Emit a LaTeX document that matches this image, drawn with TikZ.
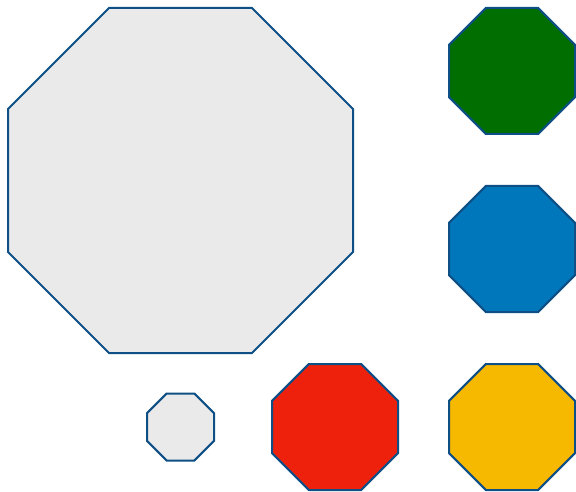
\documentclass[tikz,border=0pt]{standalone}
\usetikzlibrary{calc}
\definecolor{edgeblue}{HTML}{0E4F86}
\definecolor{lightgray}{HTML}{EAEAEA}
\definecolor{ogreen}{HTML}{006E00}
\definecolor{oblue}{HTML}{0077BB}
\definecolor{ored}{HTML}{EE220C}
\definecolor{oyellow}{HTML}{F7B900}
\tikzset{
  octo/.style={draw=edgeblue, line width=2pt, line join=miter},
}
% \octagon{fill}{cx}{cy}{halfwidth}
\newcommand\octagon[4]{%
  \pgfmathsetmacro\oa{#4}%
  \pgfmathsetmacro\ob{#4*0.414214}%
  \filldraw[octo, fill=#1]
    (#2-\ob,#3-\oa) -- (#2+\ob,#3-\oa) -- (#2+\oa,#3-\ob) -- (#2+\oa,#3+\ob)
    -- (#2+\ob,#3+\oa) -- (#2-\ob,#3+\oa) -- (#2-\oa,#3+\ob) -- (#2-\oa,#3-\ob) -- cycle;%
}
\begin{document}
\begin{tikzpicture}[x=1pt,y=-1pt]
\useasboundingbox (0,0) rectangle (576,492);
\octagon{lightgray}{180.5}{180.5}{172.5}
\octagon{ogreen}{512}{71}{63}
\octagon{oblue}{512}{249}{63}
\octagon{oyellow}{512}{427}{63}
\octagon{ored}{335}{427}{63}
\octagon{lightgray}{180.5}{427}{33.5}
\end{tikzpicture}
\end{document}
